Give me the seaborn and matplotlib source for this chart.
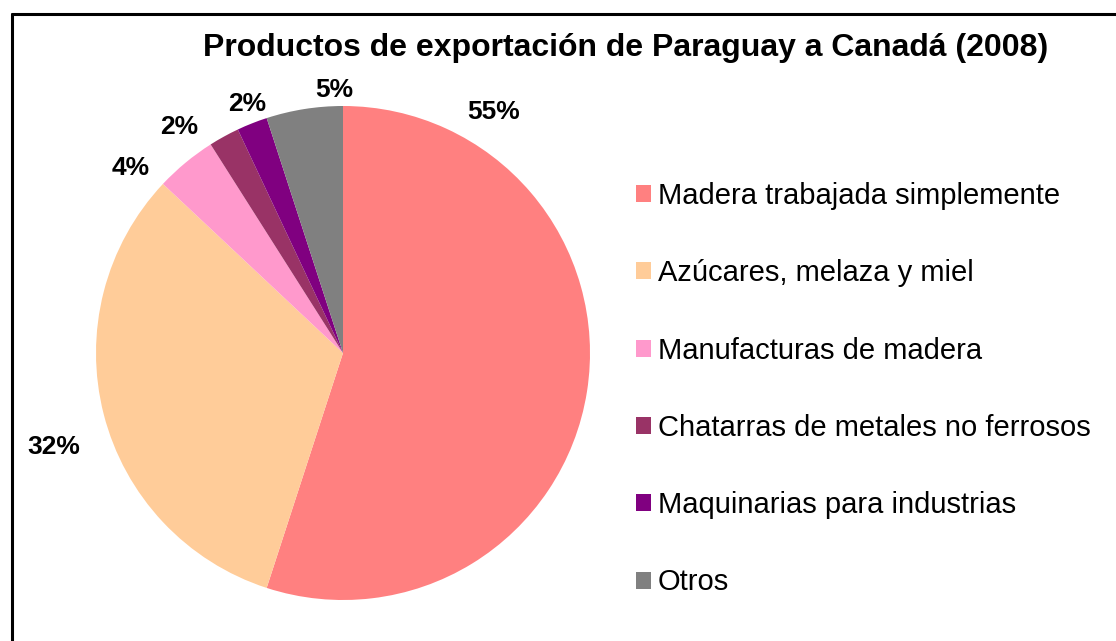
import matplotlib
matplotlib.use("Agg")
import matplotlib.pyplot as plt
import seaborn as sns
import numpy as np
from matplotlib.patches import Patch
from matplotlib.lines import Line2D

categories = ["Madera trabajada simplemente", "Azúcares, melaza y miel",
              "Manufacturas de madera", "Chatarras de metales no ferrosos",
              "Maquinarias para industrias", "Otros"]
values = [55, 32, 4, 2, 2, 5]
pct_labels = ["55%", "32%", "4%", "2%", "2%", "5%"]
colors = ["#FF8080", "#FFCC99", "#FF99CC", "#993366", "#800080", "#808080"]
title = "Productos de exportación de Paraguay a Canadá (2008)"

# label placement (layout only): polar angle in degrees and radius in pie units
label_angles = [58, 198, 139, 126, 111, 92]
label_radii = [1.15, 1.23, 1.14, 1.13, 1.08, 1.065]

sns.set_theme(style="white")
plt.rcParams['font.family'] = ['Liberation Sans', 'DejaVu Sans']
plt.rcParams['text.color'] = 'black'

W, H = 1116, 641
fig = plt.figure(figsize=(W / 100, H / 100), dpi=100)
fig.patch.set_facecolor("white")

cx, cy, r = 343, 353, 247
ax = fig.add_axes([(cx - r) / W, (H - cy - r) / H, 2 * r / W, 2 * r / H])
wedges, _ = ax.pie(values, colors=colors, startangle=90, counterclock=False,
                   radius=1, wedgeprops=dict(linewidth=0))
ax.set_xlim(-1, 1)
ax.set_ylim(-1, 1)
ax.set_aspect("equal")
ax.axis("off")

for lab, ang, rr in zip(pct_labels, label_angles, label_radii):
    t = np.deg2rad(ang)
    ax.text(rr * np.cos(t), rr * np.sin(t), lab, ha="center", va="center",
            fontsize=19, fontweight="bold", color="black", clip_on=False)

fig.text(626 / W, 1 - 48 / H, title, ha="center", va="center",
         fontsize=23, fontweight="bold", color="black")

handles = [Patch(facecolor=c, edgecolor="none") for c in colors]
leg = fig.legend(handles, categories, loc="upper left",
                 bbox_to_anchor=(636 / W, 1 - 182 / H),
                 frameon=False, fontsize=21, handlelength=0.52, handleheight=0.52,
                 handletextpad=0.22, labelspacing=1.69, borderpad=0, borderaxespad=0)
for t in leg.get_texts():
    t.set_color("black")

# outer border (top and left visible; extends beyond canvas on right/bottom)
fig.add_artist(Line2D([11.5 / W, 1.01], [1 - 13.5 / H, 1 - 13.5 / H],
                      transform=fig.transFigure, color="black", lw=2.2))
fig.add_artist(Line2D([11.5 / W, 11.5 / W], [1 - 13.5 / H, -0.01],
                      transform=fig.transFigure, color="black", lw=2.2))

fig.savefig("out.png", dpi=100, facecolor="white")
